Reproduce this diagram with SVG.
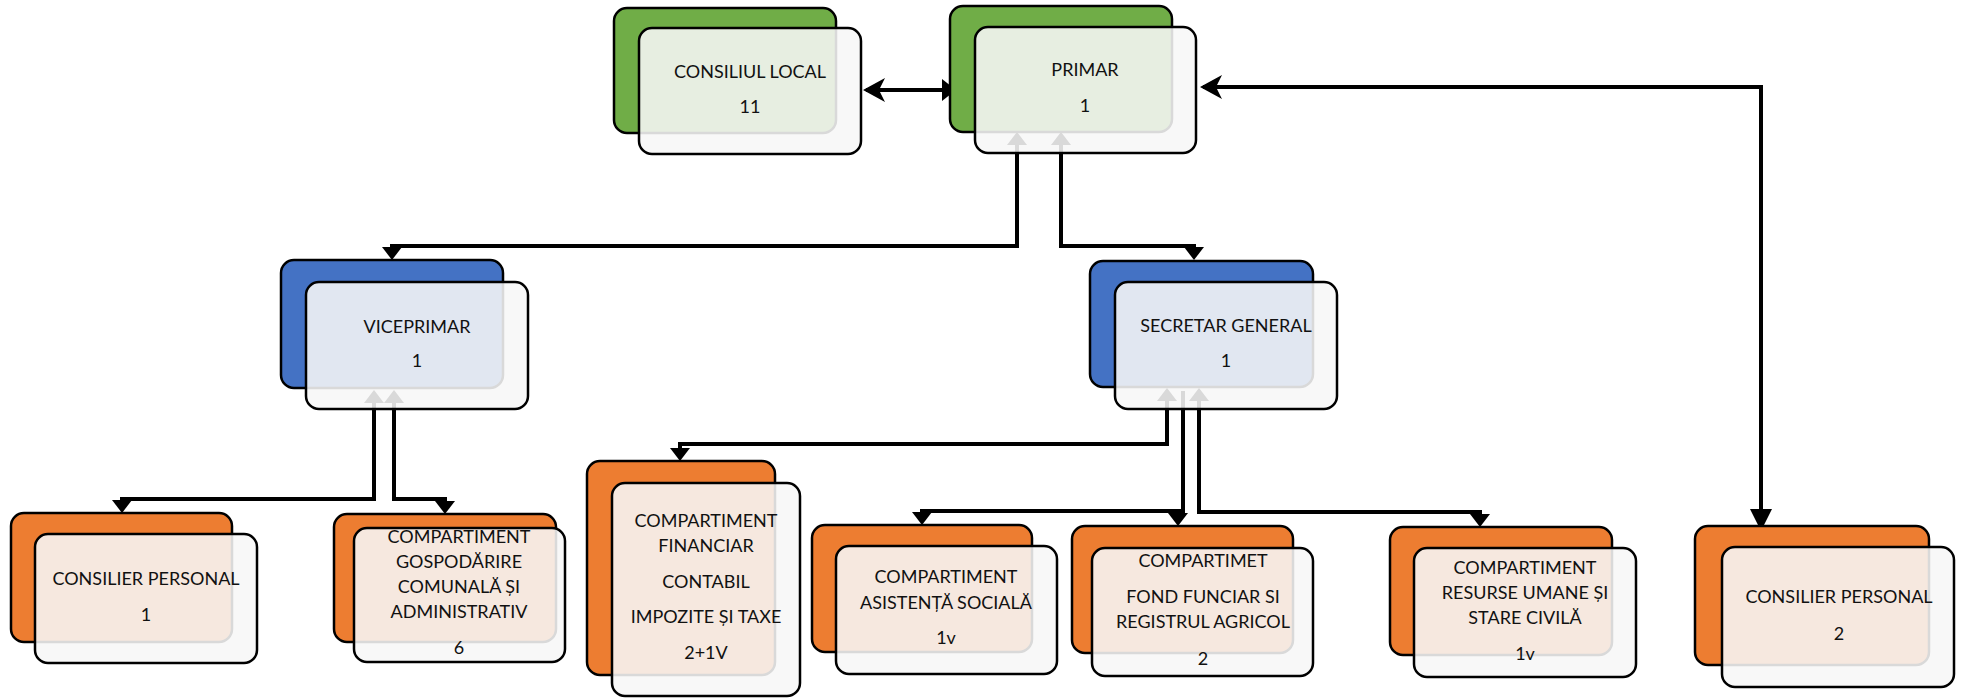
<svg xmlns="http://www.w3.org/2000/svg" width="1966" height="698" viewBox="0 0 1966 698">
<style>
.bk{stroke:#000;stroke-width:2.5}
.g{fill:#70AD47}
.b{fill:#4472C4}
.o{fill:#ED7D31}
.fr{fill:#f7f7f7;fill-opacity:0.88;stroke:#000;stroke-width:2.5}
text{font-family:Lato,"Open Sans","DejaVu Sans",sans-serif;font-size:18px;fill:#111;text-anchor:middle}
.c{fill:none;stroke:#000;stroke-width:4}
</style>
<defs>
<marker id="tri" viewBox="0 0 13 20" markerWidth="13" markerHeight="20" refX="10" refY="10" orient="auto-start-reverse" markerUnits="userSpaceOnUse"><path d="M0,0L13,10L0,20Z" fill="#000"/></marker>
<marker id="triM" viewBox="0 0 14 22" markerWidth="14" markerHeight="22" refX="11" refY="11" orient="auto" markerUnits="userSpaceOnUse"><path d="M0,0L14,11L0,22Z" fill="#000"/></marker>
<marker id="triL" viewBox="0 0 22 22" markerWidth="22" markerHeight="22" refX="19" refY="11" orient="auto" markerUnits="userSpaceOnUse"><path d="M0,0L22,11L0,22Z" fill="#000"/></marker>
<marker id="st" viewBox="0 0 22 24" markerWidth="22" markerHeight="24" refX="19" refY="12" orient="auto-start-reverse" markerUnits="userSpaceOnUse"><path d="M0,0L22,12L0,24L6,12Z" fill="#000"/></marker>
</defs>
<g id="connectors">
<path class="c" d="M866,90H953" marker-start="url(#st)" marker-end="url(#triM)"/>
<path class="c" d="M1203,87H1761V528" marker-start="url(#st)" marker-end="url(#triL)"/>
<path class="c" d="M1017,135V246H392V257" marker-start="url(#tri)" marker-end="url(#tri)"/>
<path class="c" d="M1061,135V246H1194V257" marker-start="url(#tri)" marker-end="url(#tri)"/>
<path class="c" d="M374,393V499H122V510" marker-start="url(#tri)" marker-end="url(#tri)"/>
<path class="c" d="M394,393V499H445V511" marker-start="url(#tri)" marker-end="url(#tri)"/>
<path class="c" d="M1167,391V444H680V458" marker-start="url(#tri)" marker-end="url(#tri)"/>
<path class="c" d="M1183,391V511H922V522" marker-end="url(#tri)"/>
<path class="c" d="M1183,500V512H1178V523" marker-end="url(#tri)"/>
<path class="c" d="M1199,391V512H1480V524" marker-start="url(#tri)" marker-end="url(#tri)"/>
</g>
<g id="consiliul-local">
<rect class="bk g" x="614" y="8" width="222" height="125" rx="13"/>
<rect class="fr" x="639" y="28" width="222" height="126" rx="13"/>
<text x="750" y="78">CONSILIUL LOCAL</text>
<text x="750" y="113">11</text>
</g>
<g id="primar">
<rect class="bk g" x="950" y="6" width="222" height="126" rx="13"/>
<rect class="fr" x="975" y="27" width="221" height="126" rx="13"/>
<text x="1085" y="76">PRIMAR</text>
<text x="1085" y="112">1</text>
</g>
<g id="viceprimar">
<rect class="bk b" x="281" y="260" width="222" height="128" rx="13"/>
<rect class="fr" x="306" y="282" width="222" height="127" rx="13"/>
<text x="417" y="333">VICEPRIMAR</text>
<text x="417" y="367">1</text>
</g>
<g id="secretar-general">
<rect class="bk b" x="1090" y="261" width="223" height="126" rx="13"/>
<rect class="fr" x="1115" y="282" width="222" height="127" rx="13"/>
<text x="1226" y="332">SECRETAR GENERAL</text>
<text x="1226" y="367">1</text>
</g>
<g id="consilier-personal-1">
<rect class="bk o" x="11" y="513" width="221" height="129" rx="13"/>
<rect class="fr" x="35" y="534" width="222" height="129" rx="13"/>
<text x="146" y="585">CONSILIER PERSONAL</text>
<text x="146" y="621">1</text>
</g>
<g id="gospodarire">
<rect class="bk o" x="334" y="514" width="222" height="128" rx="13"/>
<rect class="fr" x="354" y="528" width="211" height="134" rx="13"/>
<text x="459" y="543">COMPARTIMENT</text>
<text x="459" y="568">GOSPODĂRIRE</text>
<text x="459" y="593">COMUNALĂ ȘI</text>
<text x="459" y="618">ADMINISTRATIV</text>
<text x="459" y="654">6</text>
</g>
<g id="financiar">
<rect class="bk o" x="587" y="461" width="188" height="214" rx="13"/>
<rect class="fr" x="612" y="483" width="188" height="213" rx="13"/>
<text x="706" y="527">COMPARTIMENT</text>
<text x="706" y="552">FINANCIAR</text>
<text x="706" y="588">CONTABIL</text>
<text x="706" y="623">IMPOZITE ȘI TAXE</text>
<text x="706" y="659">2+1V</text>
</g>
<g id="asistenta">
<rect class="bk o" x="812" y="525" width="220" height="127" rx="13"/>
<rect class="fr" x="836" y="546" width="221" height="128" rx="13"/>
<text x="946" y="583">COMPARTIMENT</text>
<text x="946" y="609">ASISTENȚĂ SOCIALĂ</text>
<text x="946" y="644">1v</text>
</g>
<g id="fond-funciar">
<rect class="bk o" x="1072" y="526" width="221" height="127" rx="13"/>
<rect class="fr" x="1092" y="548" width="221" height="128" rx="13"/>
<text x="1203" y="567">COMPARTIMET</text>
<text x="1203" y="603">FOND FUNCIAR SI</text>
<text x="1203" y="628">REGISTRUL AGRICOL</text>
<text x="1203" y="665">2</text>
</g>
<g id="resurse-umane">
<rect class="bk o" x="1390" y="527" width="222" height="128" rx="13"/>
<rect class="fr" x="1414" y="548" width="222" height="129" rx="13"/>
<text x="1525" y="574">COMPARTIMENT</text>
<text x="1525" y="599">RESURSE UMANE ȘI</text>
<text x="1525" y="624">STARE CIVILĂ</text>
<text x="1525" y="660">1v</text>
</g>
<g id="consilier-personal-2">
<rect class="bk o" x="1695" y="526" width="234" height="139" rx="13"/>
<rect class="fr" x="1722" y="547" width="232" height="140" rx="13"/>
<text x="1839" y="603">CONSILIER PERSONAL</text>
<text x="1839" y="640">2</text>
</g>
</svg>
